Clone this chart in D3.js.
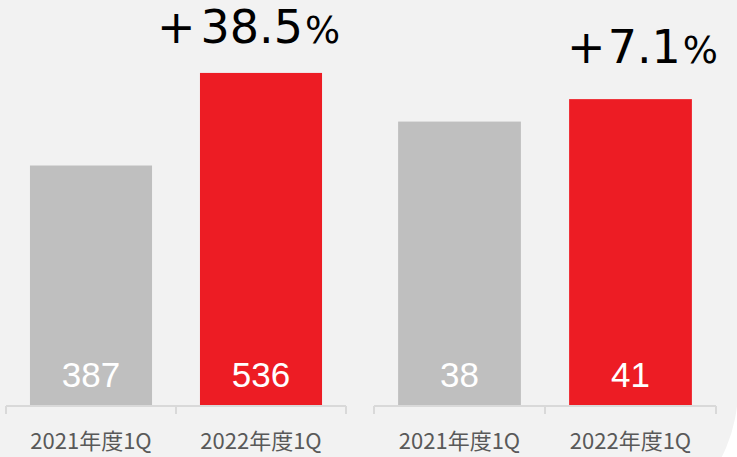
<!DOCTYPE html>
<html>
<head>
<meta charset="utf-8">
<script src="https://cdn.jsdelivr.net/npm/d3@7/dist/d3.min.js"></script>
<style>
  html, body { margin: 0; padding: 0; background: #ffffff; }
  svg { display: block; }
</style>
</head>
<body>
<svg id="chart" width="737" height="457"></svg>
<script>
// ---- data ----
const categories = ["2021年度1Q", "2022年度1Q"];
const leftValues = [387, 536];
const rightValues = [38, 41];
const growthLabels = ["38.5", "7.1"];
const barColors = ["#bfbfbf", "#ed1c24"];

// ---- layout ----
const svg = d3.select("#chart");

// background panel, only the bottom-right corner is rounded
svg.append("path")
  .attr("d", "M0,0 H738 V389 A150,150 0 0 1 588,539 H0 Z")
  .attr("fill", "#f2f2f2");

const baseY = 406, topY = 40;
const panels = [
  { values: leftValues, growth: growthLabels[0], range: [6, 346], yMax: 589, gx: -43, gy: 43, gap: 5 },
  { values: rightValues, growth: growthLabels[1], range: [374, 716], yMax: 48.9, gx: -2, gy: 63, gap: 2 }
];

panels.forEach(p => {
  const x = d3.scaleBand().domain(categories).range(p.range)
    .paddingInner(0.282).paddingOuter(0.141);
  const y = d3.scaleLinear().domain([0, p.yMax]).range([baseY, topY]);
  const g = svg.append("g");

  const data = categories.map((c, i) => ({ c, v: p.values[i], i }));

  g.selectAll("rect.bar").data(data).enter().append("rect")
    .attr("class", "bar")
    .attr("x", d => x(d.c))
    .attr("y", d => y(d.v))
    .attr("width", x.bandwidth())
    .attr("height", d => y(0) - y(d.v))
    .attr("fill", d => barColors[d.i]);

  // value labels inside bars
  g.selectAll("text.val").data(data).enter().append("text")
    .attr("class", "val")
    .attr("x", d => x(d.c) + x.bandwidth() / 2)
    .attr("y", baseY - 19)
    .attr("text-anchor", "middle")
    .attr("fill", "#ffffff")
    .attr("font-family", "'Liberation Sans', Arial, sans-serif")
    .attr("font-size", 35)
    .text(d => d.v);

  // axis line with ticks
  const r0 = p.range[0], r1 = p.range[1];
  const tickXs = [r0, (r0 + r1) / 2, r1];
  g.append("line")
    .attr("x1", r0).attr("x2", r1)
    .attr("y1", baseY).attr("y2", baseY)
    .attr("stroke", "#d9d9d9").attr("stroke-width", 2);
  g.selectAll("line.tick").data(tickXs).enter().append("line")
    .attr("class", "tick")
    .attr("x1", d => d).attr("x2", d => d)
    .attr("y1", baseY).attr("y2", baseY + 8)
    .attr("stroke", "#d9d9d9").attr("stroke-width", 2);

  // category labels
  g.selectAll("text.cat").data(data).enter().append("text")
    .attr("class", "cat")
    .attr("x", d => x(d.c) + x.bandwidth() / 2)
    .attr("y", 449)
    .attr("text-anchor", "middle")
    .attr("fill", "#595959")
    .attr("font-family", "'Noto Sans CJK JP', sans-serif")
    .attr("font-size", 22)
    .text(d => d.c);

  // growth annotation
  const t = g.append("text")
    .attr("x", x(categories[1]) + p.gx)
    .attr("y", p.gy)
    .attr("fill", "#000000")
    .attr("font-family", "'DejaVu Sans', sans-serif");
  t.append("tspan").attr("font-size", 46).text("+");
  t.append("tspan").attr("font-size", 46).attr("dx", p.gap).text(p.growth);
  t.append("tspan").attr("font-size", 37).attr("dx", 2).text("%");
});
</script>
</body>
</html>
